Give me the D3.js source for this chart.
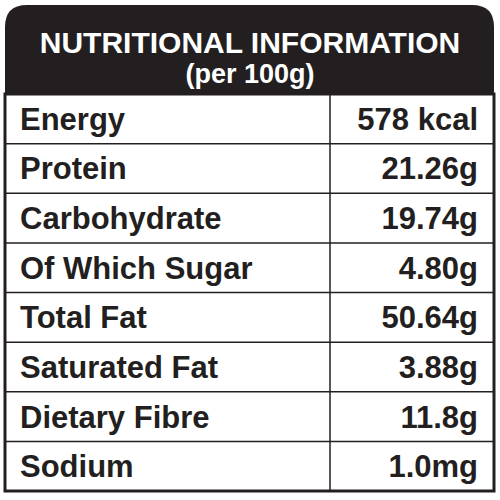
<!DOCTYPE html>
<html><head><meta charset="utf-8">
<script src="https://cdn.jsdelivr.net/npm/d3@7"></script>
<style>body{margin:0;background:#fff}</style></head>
<body><svg id="c" width="500" height="500"></svg>
<script>
const title = "NUTRITIONAL INFORMATION";
const subtitle = "(per 100g)";
const nutrients = ["Energy","Protein","Carbohydrate","Of Which Sugar","Total Fat","Saturated Fat","Dietary Fibre","Sodium"];
const amounts = ["578 kcal","21.26g","19.74g","4.80g","50.64g","3.88g","11.8g","1.0mg"];

const svg = d3.select("#c");
const L=5, R=494, T=5, B=491, headB=94, colX=330;
const y = d3.scaleBand().domain(nutrients).range([headB, B]);
const font = "'Liberation Sans', Arial, sans-serif";

svg.append("path")
  .attr("d", `M${L},${headB} L${L},${T+22} Q${L},${T} ${L+22},${T} L${R-22},${T} Q${R},${T} ${R},${T+22} L${R},${headB} Z`)
  .attr("fill","#231f20");
svg.append("text").attr("x",250).attr("y",53).attr("text-anchor","middle")
  .attr("fill","#fff").attr("font-family",font).attr("font-weight","bold").attr("font-size",30).text(title);
svg.append("text").attr("x",250).attr("y",83).attr("text-anchor","middle")
  .attr("fill","#fff").attr("font-family",font).attr("font-weight","bold").attr("font-size",27).text(subtitle);

svg.append("rect").attr("x",L).attr("y",headB).attr("width",R-L).attr("height",B-headB)
  .attr("fill","none").attr("stroke","#231f20").attr("stroke-width",3);
svg.append("line").attr("x1",colX).attr("x2",colX).attr("y1",headB).attr("y2",B)
  .attr("stroke","#231f20").attr("stroke-width",1.5);
svg.selectAll(".sep").data(nutrients.slice(1)).join("line")
  .attr("x1",L).attr("x2",R).attr("y1",d=>y(d)).attr("y2",d=>y(d))
  .attr("stroke","#231f20").attr("stroke-width",1.5);

svg.selectAll(".n").data(nutrients).join("text")
  .attr("x",20).attr("y",d=>y(d)+y.bandwidth()/2+11)
  .attr("font-family",font).attr("font-weight","bold").attr("font-size",31).attr("fill","#231f20").text(d=>d);
svg.selectAll(".v").data(amounts).join("text")
  .attr("x",478).attr("y",(d,i)=>y(nutrients[i])+y.bandwidth()/2+11).attr("text-anchor","end")
  .attr("font-family",font).attr("font-weight","bold").attr("font-size",31).attr("fill","#231f20").text(d=>d);
</script></body></html>
